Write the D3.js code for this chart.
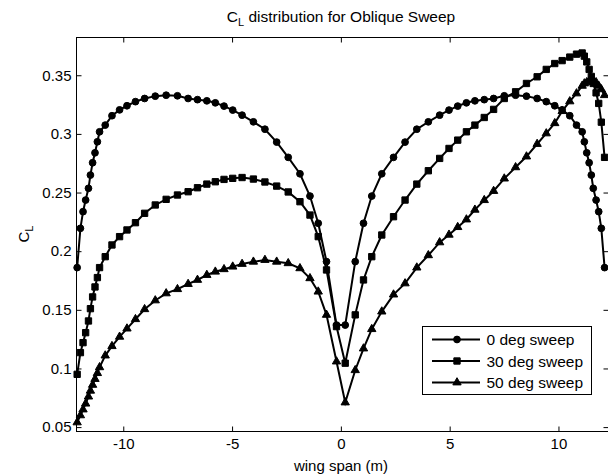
<!DOCTYPE html>
<html>
<head>
    <title>CL distribution</title>
    <meta charset="utf-8">
    <script src="https://cdn.jsdelivr.net/npm/d3@7/dist/d3.min.js"></script>
    <style>
        body {
            margin: 0;
            background: #fff;
        }

        svg {
            display: block;
            font-family: Arial, "Liberation Sans", Helvetica, sans-serif;
        }

        .series {
            fill: none;
            stroke: #000;
            stroke-width: 2;
        }

        .marker {
            fill: #000;
            stroke: #000;
        }
    </style>
</head>
<body>
<svg></svg>
<script type="text/javascript">

// spanwise stations (m)
var spanX = [
    -12.12, -11.97, -11.85, -11.73, -11.6, -11.51, -11.41, -11.3, -11.19, -11.09,
    -10.83, -10.52, -10.17, -9.83, -9.44, -9.02, -8.53, -8.03, -7.51, -7.02,
    -6.59, -6.16, -5.77, -5.37, -4.97, -4.54, -4.02, -3.49, -2.95, -2.42,
    -1.88, -1.42, -1.04, -0.66, -0.2,
    0.2, 0.66, 1.04, 1.42, 1.88, 2.42, 2.95, 3.49, 4.02, 4.54,
    4.97, 5.37, 5.77, 6.16, 6.59, 7.02, 7.51, 8.03, 8.53, 9.02,
    9.44, 9.83, 10.17, 10.52, 10.83, 11.09, 11.19, 11.3, 11.41, 11.51,
    11.6, 11.73, 11.85, 11.97, 12.12
];

var cl0 = [
    0.186, 0.2195, 0.2337, 0.2436, 0.2536, 0.2649, 0.2754, 0.2839, 0.2933, 0.3018,
    0.3075, 0.3155, 0.3205, 0.324, 0.3275, 0.3302, 0.3322, 0.333, 0.3325, 0.3302,
    0.3292, 0.3282, 0.3265, 0.3237, 0.3203, 0.316, 0.3103, 0.304, 0.293, 0.28,
    0.266, 0.247, 0.2238, 0.1911, 0.137,
    0.137, 0.1911, 0.2238, 0.247, 0.266, 0.28, 0.293, 0.304, 0.3103, 0.316,
    0.3203, 0.3237, 0.3265, 0.3282, 0.3292, 0.3302, 0.3325, 0.333, 0.3322, 0.3302,
    0.3275, 0.324, 0.3205, 0.3155, 0.3075, 0.3018, 0.2933, 0.2839, 0.2754, 0.2649,
    0.2536, 0.2436, 0.2337, 0.2195, 0.186
];

var cl30 = [
    0.095, 0.1135, 0.122, 0.1305, 0.1405, 0.151, 0.161, 0.1695, 0.1775, 0.186,
    0.1953, 0.2053, 0.2124, 0.2181, 0.2243, 0.2323, 0.2394, 0.2442, 0.2479, 0.2507,
    0.2541, 0.2572, 0.2592, 0.2612, 0.2621, 0.2628, 0.2615, 0.259, 0.2555, 0.2505,
    0.2422, 0.2308, 0.2124, 0.184, 0.1357,
    0.1045, 0.1457, 0.1755, 0.1953, 0.2138, 0.2294, 0.2436, 0.2572, 0.2686, 0.2791,
    0.2876, 0.2947, 0.3018, 0.3075, 0.314, 0.3209, 0.3302, 0.3359, 0.343, 0.3487,
    0.355, 0.36, 0.3625, 0.3655, 0.368, 0.369, 0.3663, 0.3614, 0.355, 0.349,
    0.343, 0.335, 0.326, 0.31, 0.28
];

var cl50 = [
    0.054, 0.06, 0.065, 0.07, 0.076, 0.081, 0.086, 0.091, 0.096, 0.101,
    0.111, 0.119, 0.127, 0.134, 0.142, 0.1505, 0.158, 0.164, 0.1676, 0.172,
    0.1755, 0.1797, 0.1825, 0.1846, 0.1868, 0.1891, 0.191, 0.1925, 0.191, 0.1897,
    0.1854, 0.1769, 0.1655, 0.1457, 0.1059,
    0.071, 0.0985, 0.117, 0.1335, 0.1485, 0.163, 0.1725, 0.186, 0.1965, 0.2075,
    0.214, 0.2205, 0.227, 0.2353, 0.2435, 0.2513, 0.2619, 0.2715, 0.2807, 0.2914,
    0.3004, 0.3091, 0.3194, 0.3277, 0.3345, 0.341, 0.343, 0.344, 0.345, 0.3455,
    0.345, 0.344, 0.341, 0.338, 0.333
];

var seriesNames = ['0 deg sweep', '30 deg sweep', '50 deg sweep'],
    seriesMarkers = ['circle', 'square', 'triangle'];

var xTicks = [-10, -5, 0, 5, 10],
    xTickLabels = ['-10', '-5', '0', '5', '10'],
    yTicks = [0.05, 0.1, 0.15, 0.2, 0.25, 0.3, 0.35],
    yTickLabels = ['0.05', '0.1', '0.15', '0.2', '0.25', '0.3', '0.35'];

var width = 608,
    height = 475,
    fontSize = 15,
    box = {left: 76.5, top: 37.5, right: 608.5, bottom: 431.5},
    chart = d3.select('svg').attr('width', width).attr('height', height);

var x = d3.scaleLinear().domain([-12.15, 12.3]).range([box.left, box.right]),
    y = d3.scaleLinear().domain([0.04625, 0.3822]).range([box.bottom, box.top]);

var seriesData = [cl0, cl30, cl50].map(function (vals, k) {
    return {
        name: seriesNames[k],
        marker: seriesMarkers[k],
        points: vals.map(function (v, i) {
            return {x: spanX[i], y: v};
        })
    };
});

// frame
chart.append('rect')
    .attr('x', box.left)
    .attr('y', box.top)
    .attr('width', box.right - box.left)
    .attr('height', box.bottom - box.top)
    .attr('fill', '#fff')
    .attr('stroke', '#000')
    .attr('stroke-width', 1);

function styleAxis(g) {
    g.select('.domain').remove();
    g.selectAll('line').attr('stroke', '#000');
    g.selectAll('text')
        .attr('fill', '#000')
        .attr('font-size', fontSize)
        .attr('font-family', 'Arial, "Liberation Sans", Helvetica, sans-serif');
}

chart.append('g')
    .attr('transform', 'translate(0,' + box.bottom + ')')
    .call(d3.axisBottom(x).tickValues(xTicks).tickSize(-5).tickPadding(7)
        .tickFormat(function (d, i) { return xTickLabels[i]; }))
    .call(styleAxis);

chart.append('g')
    .attr('transform', 'translate(0,' + box.top + ')')
    .call(d3.axisTop(x).tickValues(xTicks).tickSize(-5).tickFormat(''))
    .call(styleAxis);

chart.append('g')
    .attr('transform', 'translate(' + box.left + ',0)')
    .call(d3.axisLeft(y).tickValues(yTicks).tickSize(-5).tickPadding(5)
        .tickFormat(function (d, i) { return yTickLabels[i]; }))
    .call(styleAxis);

chart.append('g')
    .attr('transform', 'translate(' + box.right + ',0)')
    .call(d3.axisRight(y).tickValues(yTicks).tickSize(-5).tickFormat(''))
    .call(styleAxis);

var markerSymbol = {
    circle: d3.symbol().type(d3.symbolCircle).size(36),
    square: d3.symbol().type(d3.symbolSquare).size(40),
    triangle: d3.symbol().type(d3.symbolTriangle).size(30)
};

var line = d3.line()
    .x(function (d) { return x(d.x); })
    .y(function (d) { return y(d.y); });

var groups = chart.selectAll('g.curve')
    .data(seriesData)
    .enter()
    .append('g')
    .attr('class', 'curve');

groups.append('path')
    .attr('class', 'series')
    .attr('d', function (d) { return line(d.points); });

groups.each(function (s) {
    d3.select(this).selectAll('path.marker')
        .data(s.points)
        .enter()
        .append('path')
        .attr('class', 'marker')
        .attr('d', markerSymbol[s.marker]())
        .attr('transform', function (d) {
            return 'translate(' + x(d.x) + ',' + y(d.y) + ')';
        });
});

// legend
var legend = chart.append('g').attr('class', 'legend');

legend.append('rect')
    .attr('x', 422.5)
    .attr('y', 326.5)
    .attr('width', 169)
    .attr('height', 68)
    .attr('fill', '#fff')
    .attr('stroke', '#000');

var rows = legend.selectAll('g.row')
    .data(seriesData)
    .enter()
    .append('g')
    .attr('class', 'row')
    .attr('transform', function (d, i) {
        return 'translate(0,' + (339.5 + i * 21.5) + ')';
    });

rows.append('line')
    .attr('x1', 432)
    .attr('x2', 480)
    .attr('stroke', '#000')
    .attr('stroke-width', 2);

rows.append('path')
    .attr('class', 'marker')
    .attr('transform', 'translate(457,0)')
    .attr('d', function (d) { return markerSymbol[d.marker](); });

rows.append('text')
    .attr('x', 486.5)
    .attr('y', 5.5)
    .attr('font-size', 15.5)
    .text(function (d) { return d.name; });

// titles
var title = chart.append('text')
    .attr('x', 341)
    .attr('y', 22)
    .attr('text-anchor', 'middle')
    .attr('font-size', 15.5);
title.append('tspan').text('C');
title.append('tspan').attr('font-size', 11).attr('dy', 4).text('L');
title.append('tspan').attr('dy', -4).text(' distribution for Oblique Sweep');

chart.append('text')
    .attr('x', 341)
    .attr('y', 470.5)
    .attr('text-anchor', 'middle')
    .attr('font-size', fontSize)
    .text('wing span (m)');

var yLabel = chart.append('text')
    .attr('transform', 'translate(29,234) rotate(-90)')
    .attr('text-anchor', 'middle')
    .attr('font-size', fontSize);
yLabel.append('tspan').text('C');
yLabel.append('tspan').attr('font-size', 11).attr('dy', 4).text('L');

</script>
</body>
</html>
